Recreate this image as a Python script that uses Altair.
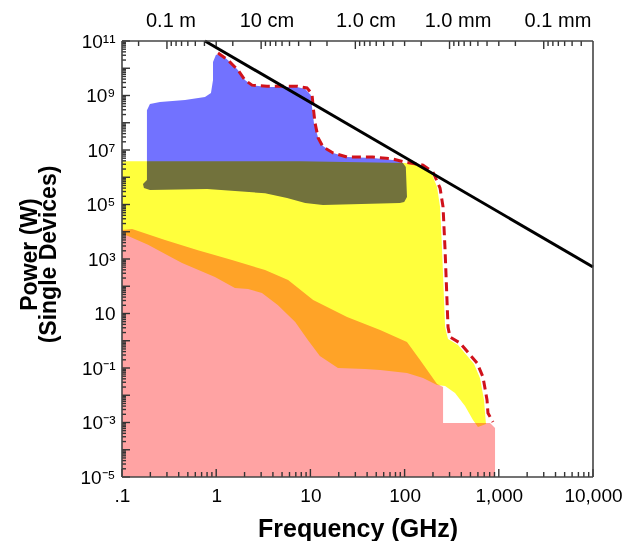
import altair as alt
import pandas as pd

# ---------------- data (frequency in GHz, power in W) ----------------
# blue region (vacuum devices), outline vertices
blue_f = [0.184, 0.198, 0.253, 0.467, 0.76, 0.88, 0.925, 0.925, 0.995, 1.15, 1.40, 1.70, 2.02, 2.40,
          3.46, 7.2, 8.8, 10.1, 10.4, 10.9, 12.1, 13.6, 17.4, 24.5, 46, 75, 96, 103, 106, 99, 89,
          13.6, 8.8, 5.65, 3.3, 0.80, 0.198, 0.171, 0.167, 0.184]
blue_p = [2.9e8, 4.9e8, 5.8e8, 6.8e8, 8.8e8, 1.24e9, 3.7e9, 1.7e10, 3.1e10, 3.1e10, 1.7e10, 8.6e9,
          3.7e9, 2.4e9, 2.05e9, 2.05e9, 1.73e9, 1.04e9, 3.8e8, 9.8e7, 2.75e7, 1.4e7, 7.8e6, 5.5e6,
          5.1e6, 4.3e6, 3.3e6, 2.4e6, 1.9e5, 1.24e5, 1.14e5, 9.6e4, 1.14e5, 1.73e5, 2.6e5, 3.7e5,
          3.4e5, 4.0e5, 5.6e5, 7.9e5]

# yellow region (solid-state devices)
yel_f = [0.1, 7.8, 101, 157, 191, 221, 238, 250, 269, 289, 369, 546, 631, 697, 714, 731, 601, 532,
         438, 343, 269, 221, 157, 106, 55, 38, 19.6, 12.6, 9.4, 6.9, 4.5, 3.06, 2.18, 1.58, 0.97,
         0.434, 0.189, 0.116, 0.1]
yel_p = [3.9e6, 3.9e6, 3.3e6, 2.6e6, 1.56e6, 4.4e5, 8.1e4, 2.1e3, 3.2, 1.16, 0.70, 0.14, 0.043,
         0.0067, 0.00223, 8.8e-4, 6.8e-4, 1.24e-3, 4.0e-3, 0.0121, 0.0218, 0.0238, 0.043, 0.066,
         0.085, 0.092, 0.1, 0.275, 1.07, 4.9, 20.5, 56, 79, 86, 218, 713, 3.3e3, 7.0e3, 8.3e3]

# pink region
pink_f = [0.1, 0.128, 0.286, 0.64, 1.47, 3.3, 5.8, 10.7, 24.5, 55, 106, 146, 221, 256, 256, 807,
          912, 912, 0.1]
pink_p = [1.16e4, 1.26e4, 5.0e3, 2.1e3, 920, 394, 170, 31, 7.4, 2.5, 0.90, 0.197, 0.026, 0.020,
          9.6e-4, 9.6e-4, 6.3e-4, 1e-5, 1e-5]

# red dashed envelope
red_f = [1.045, 1.33, 1.70, 2.02, 2.40, 3.46, 7.2, 9.2, 10.4, 10.7, 11.2, 12.1, 13.6, 17.4, 24.5,
         46, 75, 101, 157, 200, 238, 256, 269, 289, 303, 387, 588, 679, 750, 767, 867]
red_p = [3.6e10, 2.0e10, 8.6e9, 3.7e9, 2.4e9, 2.2e9, 2.2e9, 1.9e9, 1.13e9, 3.8e8, 9.8e7, 2.75e7,
         1.3e7, 7.8e6, 5.5e6, 5.5e6, 4.7e6, 3.6e6, 2.8e6, 1.56e6, 4.0e5, 8.1e4, 2.1e3, 3.2, 1.37,
         0.83, 0.152, 0.047, 0.0067, 0.00223, 0.00104]

# black P*f^2 line
blk_f = [0.76, 10000]
blk_p = [1e11, 5.1e2]

# tick labels
x_major = [0.1, 1, 10, 100, 1000, 10000]
y_major_labeled = [1e-5, 1e-3, 1e-1, 1e1, 1e3, 1e5, 1e7, 1e9, 1e11]
top_label_text = ["0.1 m", "10 cm", "1.0 cm", "1.0 mm", "0.1 mm"]
top_label_f = [0.331, 3.46, 38.9, 369, 4246]

# tick positions
y_decades = [10.0 ** e for e in range(-5, 12)]
y_minor = [k * 10.0 ** e for e in range(-5, 11) for k in range(2, 10)]
x_minor = [k * 10.0 ** e for e in range(-1, 4) for k in range(2, 10)]
top_major = [0.3, 3, 30, 300, 3000]
top_minor = [v for v in [0.3 * 10.0 ** j / m for j in range(0, 6) for m in range(2, 10)]
             if 0.1 < v < 10000]

# ---------------- styling ----------------
FONT = "Liberation Sans"
W, H = 471, 436
YEL = "#ffff3c"
PINK = "#ffa3a3"
BLUE = "#7272ff"
TICK = "#333333"

xs = alt.Scale(type="log", domain=[0.1, 10000], nice=False)
ys = alt.Scale(type="log", domain=[1e-5, 1e11], nice=False)

x_expr = ("datum.value < 0.5 ? '.1' : datum.value < 5 ? '1' : datum.value < 50 ? '10' : "
          "datum.value < 500 ? '100' : datum.value < 5000 ? '1,000' : '10,000'")
y_expr = ("datum.value < 1e-4 ? '10⁻⁵' : datum.value < 1e-2 ? '10⁻³' : datum.value < 1 ? '10⁻¹' : "
          "datum.value < 100 ? '10' : datum.value < 1e4 ? '10³' : datum.value < 1e6 ? '10⁵' : "
          "datum.value < 1e8 ? '10⁷' : datum.value < 1e10 ? '10⁹' : '10¹¹'")

x_axis = alt.Axis(values=x_major, labelExpr=x_expr, title="Frequency (GHz)", grid=False,
                  ticks=False, tickSize=0, domain=False, labelPadding=9, labelFont=FONT,
                  labelFontSize=19, labelColor="black", labelOverlap=False, labelFlush=False,
                  titleFont=FONT, titleFontSize=25, titleFontWeight="bold", titleColor="black",
                  titleBaseline="alphabetic", titleY=59)
y_axis = alt.Axis(values=y_major_labeled, labelExpr=y_expr, title=["Power (W)", "(Single Devices)"],
                  grid=False, ticks=False, tickSize=0, domain=False, labelPadding=7, labelFont=FONT,
                  labelFontSize=19, labelColor="black", labelOverlap=False, labelFlush=False,
                  titleFont=FONT, titleFontSize=23, titleFontWeight="bold", titleColor="black",
                  titleAngle=270, titleBaseline="alphabetic", titleAlign="center",
                  titleLineHeight=19, titleX=-86, titleY=213)


def poly(fs, ps):
    return pd.DataFrame({"f": fs, "p": ps, "i": list(range(len(fs)))})


def shape(fs, ps, **mark):
    return alt.Chart(poly(fs, ps)).mark_line(**mark).encode(
        x=alt.X("f:Q", scale=xs, axis=x_axis),
        y=alt.Y("p:Q", scale=ys, axis=y_axis),
        order=alt.Order("i:Q"),
    )


yellow = shape(yel_f, yel_p, fill=YEL, stroke=YEL, strokeWidth=0)
pink = shape(pink_f, pink_p, fill=PINK, stroke=PINK, strokeWidth=0, blend="multiply")
blue = shape(blue_f, blue_p, fill=BLUE, stroke=BLUE, strokeWidth=0, blend="multiply")
red = shape(red_f, red_p, color="#d0121b", strokeWidth=3, strokeDash=[9, 5])
black = shape(blk_f, blk_p, color="black", strokeWidth=3)


def vals(v):
    return pd.DataFrame({"v": v})


def left_ticks(v, ln):
    return alt.Chart(vals(v)).mark_rule(color=TICK, strokeWidth=1.4).encode(
        y=alt.Y("v:Q", scale=ys, axis=y_axis), x=alt.value(0), x2=alt.value(ln))


def bottom_ticks(v, ln):
    return alt.Chart(vals(v)).mark_rule(color=TICK, strokeWidth=1.4).encode(
        x=alt.X("v:Q", scale=xs, axis=x_axis), y=alt.value(H), y2=alt.value(H - ln))


def top_ticks(v, ln):
    return alt.Chart(vals(v)).mark_rule(color=TICK, strokeWidth=1.4).encode(
        x=alt.X("v:Q", scale=xs, axis=x_axis), y=alt.value(0), y2=alt.value(ln))


def edge(**enc):
    return alt.Chart(vals([0])).mark_rule(color="#444", strokeWidth=1.6).encode(**enc)


border = alt.layer(
    edge(x=alt.value(0), y=alt.value(0), y2=alt.value(H)),
    edge(x=alt.value(W), y=alt.value(0), y2=alt.value(H)),
    edge(y=alt.value(0), x=alt.value(0), x2=alt.value(W)),
    edge(y=alt.value(H), x=alt.value(0), x2=alt.value(W)),
)

top_labels = alt.Chart(pd.DataFrame({"f": top_label_f, "t": top_label_text})).mark_text(
    font=FONT, fontSize=20, baseline="alphabetic", align="center", color="black").encode(
    x=alt.X("f:Q", scale=xs, axis=x_axis), y=alt.value(-14), text="t:N")

chart = alt.layer(
    yellow, pink, blue, red, black,
    left_ticks(y_decades, 8), left_ticks(y_minor, 4),
    bottom_ticks(x_major, 8), bottom_ticks(x_minor, 5),
    top_ticks(top_major, 8), top_ticks(top_minor, 5),
    border, top_labels,
).properties(
    width=W, height=H,
    autosize=alt.AutoSizeParams(type="none"),
    padding={"left": 114, "top": 33, "right": 30, "bottom": 64},
    background="white",
).configure_view(strokeWidth=0)

chart.save("out.html", embed_options={"renderer": "svg", "actions": False})
